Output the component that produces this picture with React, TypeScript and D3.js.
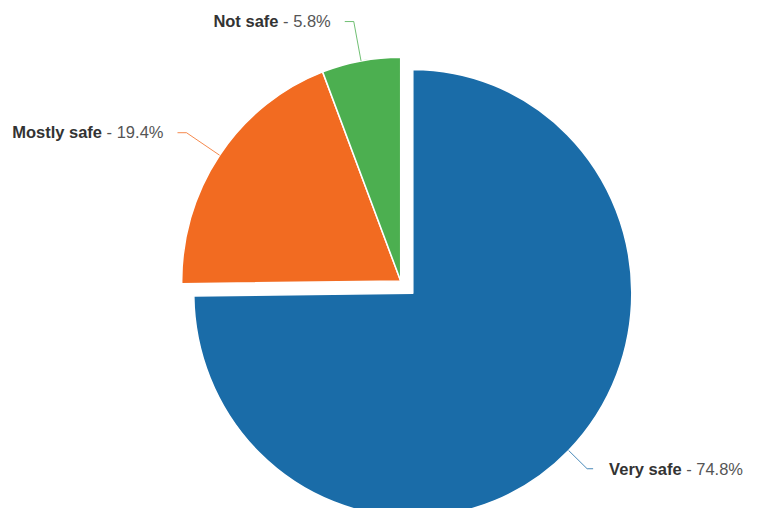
import React from "react";
import * as d3 from "d3";

const categories = ["Very safe", "Mostly safe", "Not safe"];
const values = [74.8, 19.4, 5.8];
const colors = ["#1a6ca8", "#f26b21", "#4caf50"];
const slicedFlags = [true, false, false];

const W = 760;
const H = 508;
const cx = 400.7;
const cy = 281;
const R = 219;
const SY = 1.022;
const slicedOffset = 17;

export default function App() {
  const pie = d3.pie<number>().sort(null).value((d) => d)(values);
  const arc = d3.arc<d3.PieArcDatum<number>>().innerRadius(0).outerRadius(R);

  return (
    <svg width={W} height={H} style={{ position: "absolute", left: 0, top: 0, fontFamily: "'Liberation Sans', Arial, sans-serif" }}>
      <rect width={W} height={H} fill="#fff" />
      {pie.map((p, i) => {
        const mid = (p.startAngle + p.endAngle) / 2;
        const off = slicedFlags[i] ? slicedOffset : 0;
        const ox = cx + off * Math.sin(mid);
        const oy = cy - off * Math.cos(mid) * SY;
        const right = Math.sin(mid) > 0;
        const dElbow = right ? 26 : 40;
        const ex = ox + R * Math.sin(mid);
        const ey = oy - R * SY * Math.cos(mid);
        const bx = ox + (R + dElbow) * Math.sin(mid);
        const by = oy - (R * SY + dElbow) * Math.cos(mid);
        const hx = bx + (right ? 6 : -9);
        const tx = hx + (right ? 16 : -14);
        return (
          <g key={categories[i]}>
            <path
              d={arc(p) || ""}
              transform={`translate(${ox},${oy}) scale(1,${SY})`}
              fill={colors[i]}
              stroke="#fff"
              strokeWidth={1.5}
              strokeLinejoin="round"
            />
            <path d={`M${ex},${ey}L${bx},${by}L${hx},${by}`} fill="none" stroke={colors[i]} strokeWidth={1} opacity={0.8} />
            <text x={tx} y={by} dy="0.35em" textAnchor={right ? "start" : "end"} fontSize={16.5} fill="#333">
              <tspan fontWeight="bold">{categories[i]}</tspan>
              <tspan fill="#555">{` - ${values[i].toFixed(1)}%`}</tspan>
            </text>
          </g>
        );
      })}
    </svg>
  );
}
